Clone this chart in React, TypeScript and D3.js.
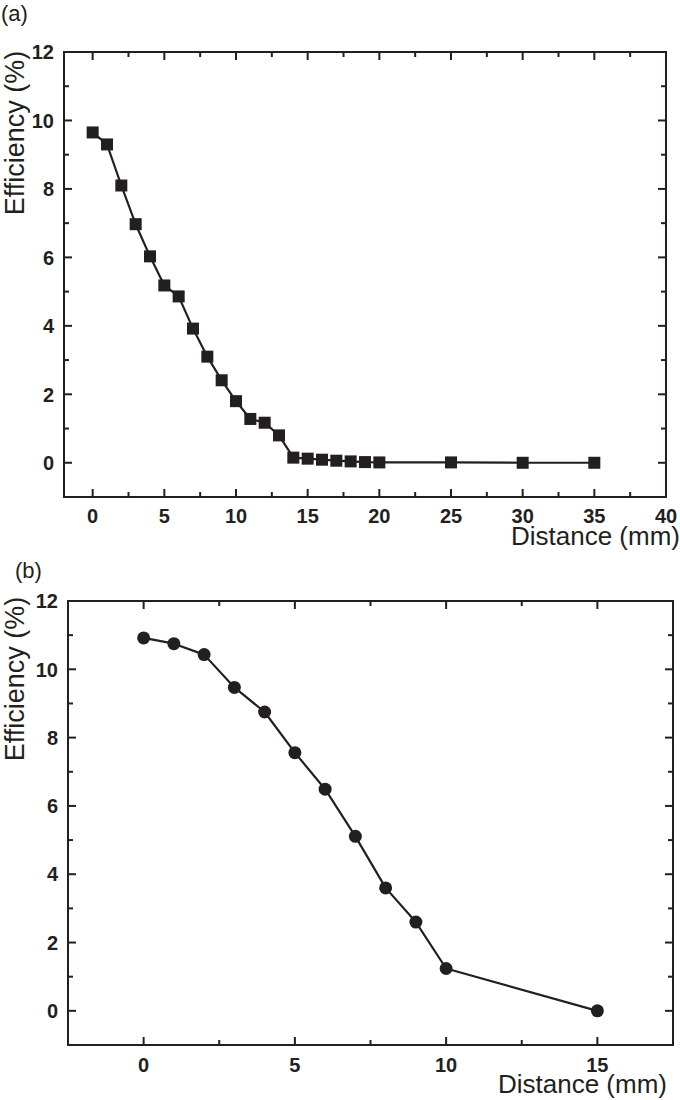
import React from "react";
import * as d3 from "d3";

// Panel (a) data
const distA = [0, 1, 2, 3, 4, 5, 6, 7, 8, 9, 10, 11, 12, 13, 14, 15, 16, 17, 18, 19, 20, 25, 30, 35];
const effA = [9.65, 9.3, 8.1, 6.97, 6.03, 5.18, 4.86, 3.92, 3.1, 2.41, 1.8, 1.28, 1.17, 0.8, 0.15, 0.12, 0.09, 0.06, 0.04, 0.02, 0.01, 0.01, 0.0, 0.0];
const xTicksA = [0, 5, 10, 15, 20, 25, 30, 35, 40];
const xMinorA = [2.5, 7.5, 12.5, 17.5, 22.5, 27.5, 32.5, 37.5];

// Panel (b) data
const distB = [0, 1, 2, 3, 4, 5, 6, 7, 8, 9, 10, 15];
const effB = [10.92, 10.75, 10.43, 9.47, 8.75, 7.56, 6.49, 5.11, 3.6, 2.6, 1.24, 0.0];
const xTicksB = [0, 5, 10, 15];
const xMinorB = [2.5, 7.5, 12.5];

const yTicks = [0, 2, 4, 6, 8, 10, 12];
const yMinor = [-1, 1, 3, 5, 7, 9, 11];

const INK = "#231f20";
const FONT = "'Liberation Sans', Arial, Helvetica, sans-serif";

type PanelProps = {
  left: number;
  right: number;
  top: number;
  bottom: number;
  xDomain: [number, number];
  xTicks: number[];
  xMinor: number[];
  xs: number[];
  ys: number[];
  marker: "square" | "circle";
  tag: string;
  tagX: number;
  tagY: number;
  yLabelX: number;
  yLabelCY: number;
  xLabelRight: number;
  xLabelY: number;
  xTickLabelY: number;
};

function Panel(p: PanelProps) {
  const x = d3.scaleLinear().domain(p.xDomain).range([p.left, p.right]);
  const y = d3.scaleLinear().domain([-1, 12]).range([p.bottom, p.top]);
  const line = d3
    .line<number>()
    .x((_, i) => x(p.xs[i]))
    .y((d) => y(d));
  const MAJ = 8;
  const MIN = 5;
  return (
    <g>
      <text x={p.tagX} y={p.tagY} fontFamily={FONT} fontSize={22} fill={INK}>
        {p.tag}
      </text>
      {/* frame */}
      <rect
        x={p.left}
        y={p.top}
        width={p.right - p.left}
        height={p.bottom - p.top}
        fill="none"
        stroke={INK}
        strokeWidth={2}
      />
      {/* x ticks bottom and top */}
      {p.xTicks.map((t) => (
        <g key={"xt" + t}>
          <line x1={x(t)} x2={x(t)} y1={p.bottom} y2={p.bottom - MAJ} stroke={INK} strokeWidth={2} />
          <line x1={x(t)} x2={x(t)} y1={p.top} y2={p.top + MAJ} stroke={INK} strokeWidth={2} />
          <text
            x={x(t)}
            y={p.xTickLabelY}
            textAnchor="middle"
            fontFamily={FONT}
            fontWeight="bold"
            fontSize={20}
            fill={INK}
          >
            {t}
          </text>
        </g>
      ))}
      {p.xMinor.map((t) => (
        <g key={"xm" + t}>
          <line x1={x(t)} x2={x(t)} y1={p.bottom} y2={p.bottom - MIN} stroke={INK} strokeWidth={2} />
          <line x1={x(t)} x2={x(t)} y1={p.top} y2={p.top + MIN} stroke={INK} strokeWidth={2} />
        </g>
      ))}
      {/* y ticks left and right */}
      {yTicks.map((t) => (
        <g key={"yt" + t}>
          <line x1={p.left} x2={p.left + MAJ} y1={y(t)} y2={y(t)} stroke={INK} strokeWidth={2} />
          <line x1={p.right} x2={p.right - MAJ} y1={y(t)} y2={y(t)} stroke={INK} strokeWidth={2} />
          <text
            x={p.left - 10}
            y={y(t)}
            dy="0.36em"
            textAnchor="end"
            fontFamily={FONT}
            fontWeight="bold"
            fontSize={20}
            fill={INK}
          >
            {t}
          </text>
        </g>
      ))}
      {yMinor.map((t) => (
        <g key={"ym" + t}>
          <line x1={p.left} x2={p.left + MIN} y1={y(t)} y2={y(t)} stroke={INK} strokeWidth={2} />
          <line x1={p.right} x2={p.right - MIN} y1={y(t)} y2={y(t)} stroke={INK} strokeWidth={2} />
        </g>
      ))}
      {/* axis labels */}
      <text
        transform={`translate(${p.yLabelX},${p.yLabelCY}) rotate(-90)`}
        textAnchor="middle"
        fontFamily={FONT}
        fontSize={27}
        fill={INK}
      >
        Efficiency (%)
      </text>
      <text
        x={p.xLabelRight}
        y={p.xLabelY}
        textAnchor="end"
        fontFamily={FONT}
        fontSize={26}
        fill={INK}
      >
        Distance (mm)
      </text>
      {/* data */}
      <path d={line(p.ys) || ""} fill="none" stroke={INK} strokeWidth={2.2} strokeLinejoin="round" />
      {p.ys.map((v, i) =>
        p.marker === "square" ? (
          <rect key={"m" + i} x={x(p.xs[i]) - 6} y={y(v) - 6} width={12} height={12} fill={INK} />
        ) : (
          <circle key={"m" + i} cx={x(p.xs[i])} cy={y(v)} r={6.5} fill={INK} />
        )
      )}
    </g>
  );
}

export default function App() {
  return (
    <svg
      width={680}
      height={1100}
      style={{ position: "absolute", left: 0, top: 0, background: "#fff" }}
    >
      <rect x={0} y={0} width={680} height={1100} fill="#fff" />
      <Panel
        left={64}
        right={666}
        top={52}
        bottom={497}
        xDomain={[-2, 40]}
        xTicks={xTicksA}
        xMinor={xMinorA}
        xs={distA}
        ys={effA}
        marker="square"
        tag="(a)"
        tagX={1}
        tagY={21}
        yLabelX={24}
        yLabelCY={133}
        xLabelRight={680}
        xLabelY={545}
        xTickLabelY={523}
      />
      <Panel
        left={68}
        right={673}
        top={601}
        bottom={1045}
        xDomain={[-2.5, 17.5]}
        xTicks={xTicksB}
        xMinor={xMinorB}
        xs={distB}
        ys={effB}
        marker="circle"
        tag="(b)"
        tagX={15}
        tagY={578}
        yLabelX={24}
        yLabelCY={679}
        xLabelRight={667}
        xLabelY={1093}
        xTickLabelY={1072}
      />
    </svg>
  );
}
